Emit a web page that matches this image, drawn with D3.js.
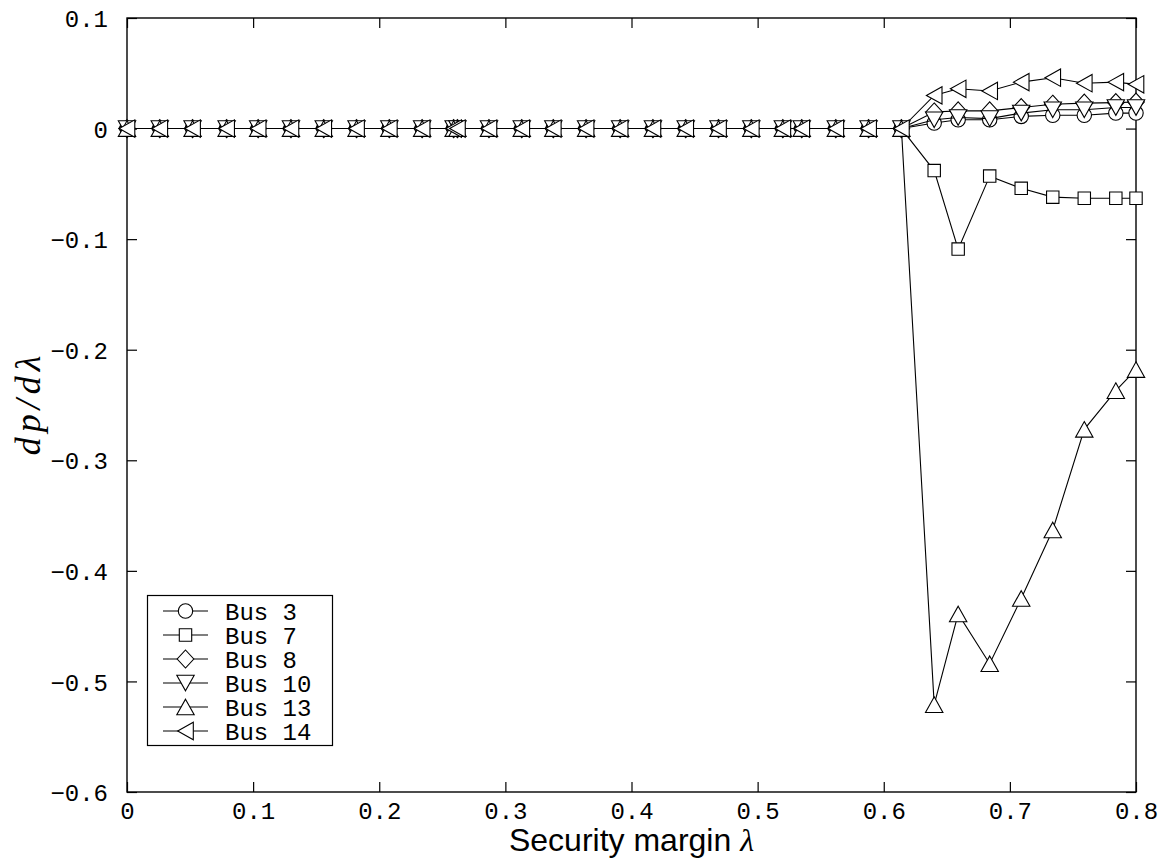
<!DOCTYPE html>
<html>
<head>
<meta charset="utf-8">
<script src="https://cdn.jsdelivr.net/npm/d3@7"></script>
<style>
  html, body { margin: 0; padding: 0; background: #fff; }
  svg { display: block; }
</style>
</head>
<body>
<svg id="chart" width="1163" height="858"></svg>
<script>
// ---- data ----
const lambda = [0, 0.026, 0.052, 0.079, 0.104, 0.130, 0.156, 0.182, 0.208, 0.234, 0.259, 0.262,
  0.287, 0.313, 0.338, 0.364, 0.391, 0.417, 0.443, 0.469, 0.495, 0.520, 0.535, 0.562, 0.588, 0.614,
  0.640, 0.659, 0.684, 0.709, 0.734, 0.759, 0.784, 0.800];

const bus3  = [0,0,0,0,0,0,0,0,0,0,0,0,0,0,0,0,0,0,0,0,0,0,0,0,0,0,
  0.005, 0.008, 0.008, 0.011, 0.012, 0.012, 0.014, 0.014];
const bus7  = [0,0,0,0,0,0,0,0,0,0,0,0,0,0,0,0,0,0,0,0,0,0,0,0,0,0,
  -0.038, -0.109, -0.043, -0.054, -0.062, -0.063, -0.063, -0.063];
const bus8  = [0,0,0,0,0,0,0,0,0,0,0,0,0,0,0,0,0,0,0,0,0,0,0,0,0,0,
  0.015, 0.016, 0.016, 0.019, 0.022, 0.023, 0.0235, 0.024];
const bus10 = [0,0,0,0,0,0,0,0,0,0,0,0,0,0,0,0,0,0,0,0,0,0,0,0,0,0,
  0.008, 0.010, 0.009, 0.014, 0.017, 0.017, 0.019, 0.019];
const bus13 = [0,0,0,0,0,0,0,0,0,0,0,0,0,0,0,0,0,0,0,0,0,0,0,0,0,0,
  -0.521, -0.439, -0.484, -0.425, -0.363, -0.272, -0.237, -0.218];
const bus14 = [0,0,0,0,0,0,0,0,0,0,0,0,0,0,0,0,0,0,0,0,0,0,0,0,0,0,
  0.030, 0.036, 0.034, 0.042, 0.046, 0.041, 0.042, 0.040];

const seriesNames = ["Bus 3", "Bus 7", "Bus 8", "Bus 10", "Bus 13", "Bus 14"];
const seriesMarkers = ["circle", "square", "diamond", "triDown", "triUp", "triLeft"];
const seriesValues = [bus3, bus7, bus8, bus10, bus13, bus14];

const xTicks = [0, 0.1, 0.2, 0.3, 0.4, 0.5, 0.6, 0.7, 0.8];
const yTicks = [0.1, 0, -0.1, -0.2, -0.3, -0.4, -0.5, -0.6];
const xTickLabels = ["0", "0.1", "0.2", "0.3", "0.4", "0.5", "0.6", "0.7", "0.8"];
const yTickLabels = ["0.1", "0", "\u22120.1", "\u22120.2", "\u22120.3", "\u22120.4", "\u22120.5", "\u22120.6"];

// ---- layout ----
const L = 127, R = 1136, T = 18, B = 792;
const svg = d3.select("#chart");
const x = d3.scaleLinear().domain([0, 0.8]).range([L, R]);
const y = d3.scaleLinear().domain([-0.6, 0.1]).range([B, T]);

const monoFont = "'Liberation Mono', 'Courier New', monospace";

// marker shapes
function markerPath(type) {
  switch (type) {
    case "circle": { const r = 7.2; return `M${-r},0A${r},${r} 0 1,0 ${r},0A${r},${r} 0 1,0 ${-r},0Z`; }
    case "square": { const s = 6.2; return `M${-s},${-s}H${s}V${s}H${-s}Z`; }
    case "diamond": { const w = 8.3, h = 9; return `M0,${-h}L${w},0L0,${h}L${-w},0Z`; }
    case "triUp": { const w = 8.7, h = 7.8; return `M0,${-h}L${w},${h}L${-w},${h}Z`; }
    case "triDown": { const w = 8.7, h = 7.8; return `M0,${h}L${w},${-h}L${-w},${-h}Z`; }
    case "triLeft": { const w = 7.8, h = 8.7; return `M${-w},0L${w},${-h}L${w},${h}Z`; }
  }
}

// ---- axes ----
const fmtX = (d) => xTickLabels[xTicks.indexOf(d)];
const fmtY = (d) => yTickLabels[yTicks.indexOf(d)];

const gBottom = svg.append("g").attr("transform", `translate(0,${B})`)
  .call(d3.axisBottom(x).tickValues(xTicks).tickFormat(fmtX).tickSizeInner(-10).tickSizeOuter(0).tickPadding(14));
const gTop = svg.append("g").attr("transform", `translate(0,${T})`)
  .call(d3.axisTop(x).tickValues(xTicks).tickFormat("").tickSizeInner(-10).tickSizeOuter(0));
const gLeft = svg.append("g").attr("transform", `translate(${L},0)`)
  .call(d3.axisLeft(y).tickValues(yTicks).tickFormat(fmtY).tickSizeInner(-10).tickSizeOuter(0).tickPadding(19));
const gRight = svg.append("g").attr("transform", `translate(${R},0)`)
  .call(d3.axisRight(y).tickValues(yTicks).tickFormat("").tickSizeInner(-10).tickSizeOuter(0));

[gBottom, gTop, gLeft, gRight].forEach(g => {
  g.select(".domain").remove();
  g.selectAll(".tick line").attr("stroke", "#000").attr("stroke-width", 1.2);
  g.selectAll(".tick text").attr("fill", "#000").attr("font-family", monoFont).attr("font-size", 24);
});
gBottom.selectAll(".tick text").attr("dy", "0.55em");
gLeft.selectAll(".tick text").attr("dy", "0.36em");

// frame
svg.append("rect").attr("x", L).attr("y", T).attr("width", R - L).attr("height", B - T)
  .attr("fill", "none").attr("stroke", "#000").attr("stroke-width", 1.4);

// ---- series ----
const line = d3.line().x(d => x(d[0])).y(d => y(d[1]));
const plot = svg.append("g");
seriesValues.forEach((vals, si) => {
  const pts = lambda.map((l, i) => [l, vals[i]]);
  const g = plot.append("g");
  g.append("path").attr("d", line(pts)).attr("fill", "none").attr("stroke", "#000").attr("stroke-width", 1.1);
  g.selectAll("path.m").data(pts).enter().append("path").attr("class", "m")
    .attr("d", markerPath(seriesMarkers[si]))
    .attr("transform", d => `translate(${x(d[0])},${y(d[1])})`)
    .attr("fill", "#fff").attr("stroke", "#000").attr("stroke-width", 1.1);
});

// ---- legend ----
const lg = svg.append("g");
const lgX = 147.5, lgY = 595.5, lgW = 185, rowH = 24;
lg.append("rect").attr("x", lgX).attr("y", lgY).attr("width", lgW).attr("height", rowH * seriesNames.length + 6)
  .attr("fill", "#fff").attr("stroke", "#000").attr("stroke-width", 1.2);
seriesNames.forEach((name, i) => {
  const cy = lgY + 15.5 + i * rowH;
  lg.append("line").attr("x1", 163).attr("x2", 208).attr("y1", cy).attr("y2", cy)
    .attr("stroke", "#000").attr("stroke-width", 1.1);
  lg.append("path").attr("d", markerPath(seriesMarkers[i])).attr("transform", `translate(185.5,${cy})`)
    .attr("fill", "#fff").attr("stroke", "#000").attr("stroke-width", 1.1);
  lg.append("text").attr("x", 225).attr("y", cy).attr("dy", "0.36em")
    .attr("font-family", monoFont).attr("font-size", 24).attr("fill", "#000")
    .text(name);
});

// ---- axis labels ----
const xl = svg.append("text").attr("x", (L + R) / 2).attr("y", 851).attr("text-anchor", "middle")
  .attr("font-family", "'Liberation Sans', Arial, sans-serif").attr("font-size", 32).attr("fill", "#000");
xl.append("tspan").text("Security margin ");
xl.append("tspan").attr("font-family", "'Liberation Serif', serif").attr("font-style", "italic").text("\u03bb");

svg.append("text").attr("transform", `translate(40,403) rotate(-90)`)
  .attr("text-anchor", "middle").attr("font-family", "'Liberation Serif', serif")
  .attr("font-style", "italic").attr("font-size", 36).attr("letter-spacing", 5).attr("fill", "#000")
  .text("dp/d\u03bb");
</script>
</body>
</html>
